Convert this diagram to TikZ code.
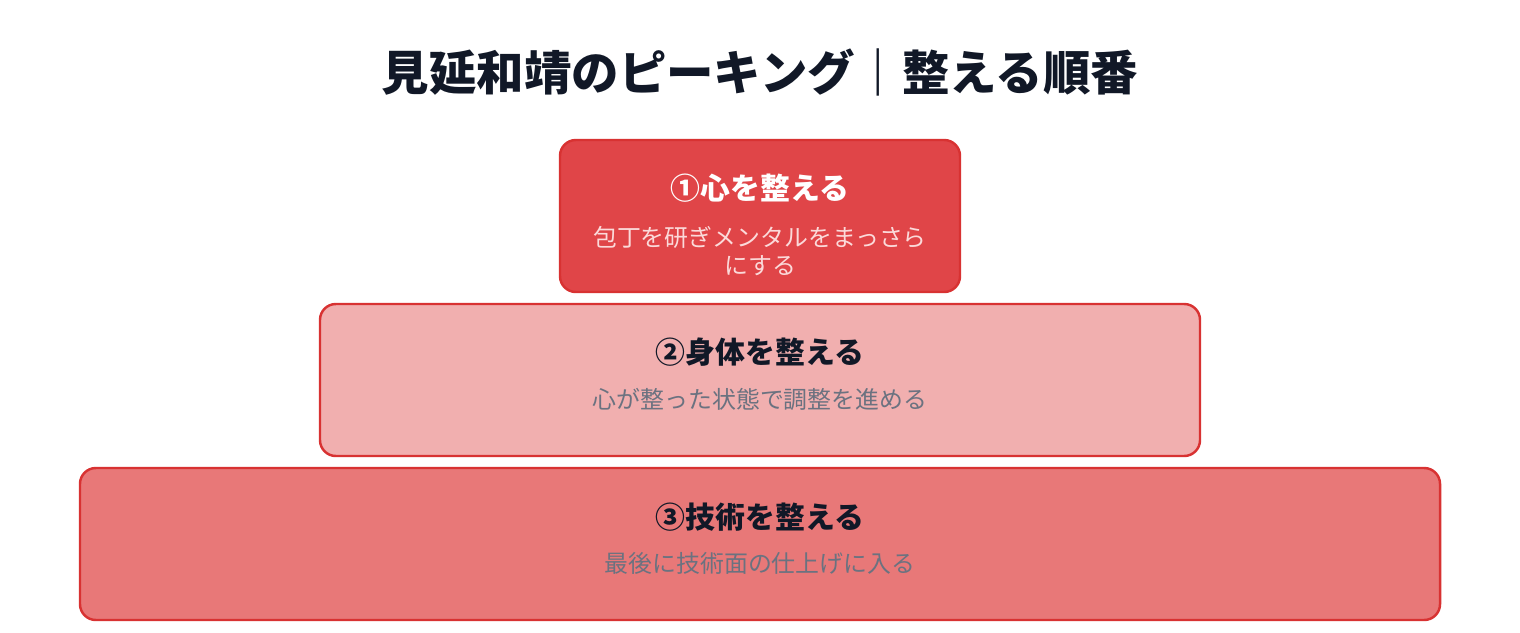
\documentclass[tikz,border=0pt]{standalone}
\usepackage{fontspec}
\setmainfont{Noto Sans CJK JP}
\usepackage{tikz}
\usetikzlibrary{positioning,calc}
\definecolor{inkNavy}{HTML}{111827}
\definecolor{inkGray}{HTML}{6B7280}
\definecolor{edgeRed}{HTML}{D83232}
\definecolor{fillTop}{HTML}{E04548}
\definecolor{fillMid}{HTML}{F1AFAF}
\definecolor{fillLow}{HTML}{E87878}
\definecolor{subPink}{HTML}{FBDADA}
\tikzset{
    tier/.style     = {draw=edgeRed, line width=1.4pt, rounded corners=9pt,
            minimum height=3.04cm, inner sep=0pt, outer sep=0pt},
    tierTop/.style  = {tier, fill=fillTop, minimum width=8cm},
    tierMid/.style  = {tier, fill=fillMid, minimum width=17.6cm},
    tierLow/.style  = {tier, fill=fillLow, minimum width=27.2cm},
    head/.style     = {font=\fontsize{17}{20}\selectfont\bfseries, text=inkNavy},
    sub/.style      = {font=\fontsize{13.6}{15.9}\selectfont, text=inkGray, align=center},
    heading/.style  = {font=\fontsize{27}{30}\selectfont\bfseries, text=inkNavy},
}

\begin{document}
\begin{tikzpicture}[node distance=0.24cm]
            \useasboundingbox (0,0) rectangle (30.4,-12.64);
            \begin{scope}
                % Nodes
                \node[heading] (title) at (15.2,-1.44) {見延和靖のピーキング｜整える順番};
                \node[tierTop] (mind) at (15.2,-4.32) {};
                \node[tierMid, below=of mind] (body) {};
                \node[tierLow, below=of body] (skill) {};

                % Texts inside the tiers
                \node[head, text=white] (mindHead) at ($(mind.north)+(0,-0.96)$) {①心を整える};
                \node[sub, text=subPink] (mindSub) at ($(mind.north)+(0,-2.22)$) {包丁を研ぎメンタルをまっさら\\にする};
                \node[head] (bodyHead) at ($(body.north)+(0,-0.96)$) {②身体を整える};
                \node[sub] (bodySub) at ($(body.north)+(0,-1.9)$) {心が整った状態で調整を進める};
                \node[head] (skillHead) at ($(skill.north)+(0,-0.98)$) {③技術を整える};
                \node[sub] (skillSub) at ($(skill.north)+(0,-1.9)$) {最後に技術面の仕上げに入る};
            \end{scope}
        \end{tikzpicture}
\end{document}
